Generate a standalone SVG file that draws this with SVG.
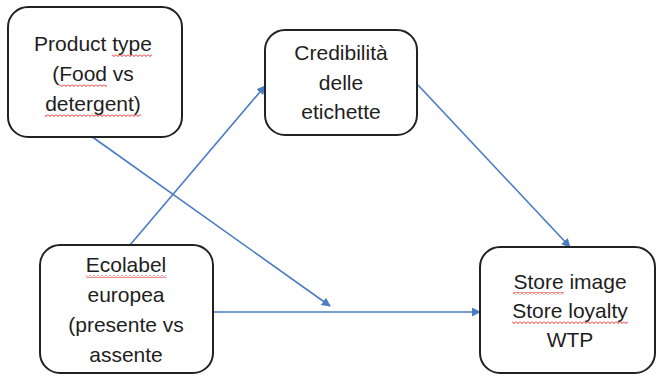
<svg xmlns="http://www.w3.org/2000/svg" width="661" height="378" viewBox="0 0 661 378">
<style>
.box{fill:#fff;stroke:#222;stroke-width:2}
.t{font-family:"Liberation Sans",Arial,sans-serif;font-size:21px;fill:#1e1e1e;text-anchor:middle}
.c{stroke:#4a7cc4;stroke-width:1.6;fill:none}
.sq{fill:url(#sq)}
</style>
<defs>
<marker id="ah" viewBox="0 0 10 10" refX="9" refY="5" markerWidth="9" markerHeight="9" markerUnits="userSpaceOnUse" orient="auto">
<path d="M0 0 L10 5 L0 10 z" fill="#4a7cc4"/>
</marker>
<pattern id="sq" width="4" height="3" patternUnits="userSpaceOnUse">
<path d="M0 0.5 L2 2.5 L4 0.5" stroke="#e0201e" stroke-width="1" fill="none"/>
</pattern>
</defs>
<rect width="661" height="378" fill="#fff"/>
<g id="connectors">
<line class="c" x1="91" y1="136" x2="330" y2="306" marker-end="url(#ah)"/>
<line class="c" x1="213" y1="312" x2="480" y2="312" marker-end="url(#ah)"/>
<line class="c" x1="130" y1="245" x2="265" y2="86" marker-end="url(#ah)"/>
<line class="c" x1="418" y1="85" x2="570" y2="247" marker-end="url(#ah)"/>
</g>
<g id="product">
<rect class="box" x="8" y="7" width="174" height="130" rx="20"/>
<text class="t" x="93" y="51">Product type</text>
<text class="t" x="93" y="81">(Food vs</text>
<text class="t" x="93" y="111">detergent)</text>
<rect class="sq" x="112" y="54" width="40" height="3"/>
<rect class="sq" x="59" y="84" width="48" height="3"/>
<rect class="sq" x="45" y="114" width="96" height="3"/>
</g>
<g id="credibilita">
<rect class="box" x="265" y="30" width="152" height="105" rx="20"/>
<text class="t" x="341" y="60">Credibilità</text>
<text class="t" x="341" y="90">delle</text>
<text class="t" x="341" y="119">etichette</text>
</g>
<g id="ecolabel">
<rect class="box" x="40" y="245" width="173" height="128" rx="20"/>
<text class="t" x="126" y="272">Ecolabel</text>
<text class="t" x="126" y="302">europea</text>
<text class="t" x="126" y="332">(presente vs</text>
<text class="t" x="126" y="362">assente</text>
<rect class="sq" x="86" y="275" width="80" height="3"/>
</g>
<g id="store">
<rect class="box" x="480" y="247" width="175" height="126" rx="20"/>
<text class="t" x="570" y="289">Store image</text>
<text class="t" x="570" y="318">Store loyalty</text>
<text class="t" x="570" y="347">WTP</text>
<rect class="sq" x="513" y="292" width="51" height="3"/>
<rect class="sq" x="512" y="321" width="116" height="3"/>
</g>
</svg>
